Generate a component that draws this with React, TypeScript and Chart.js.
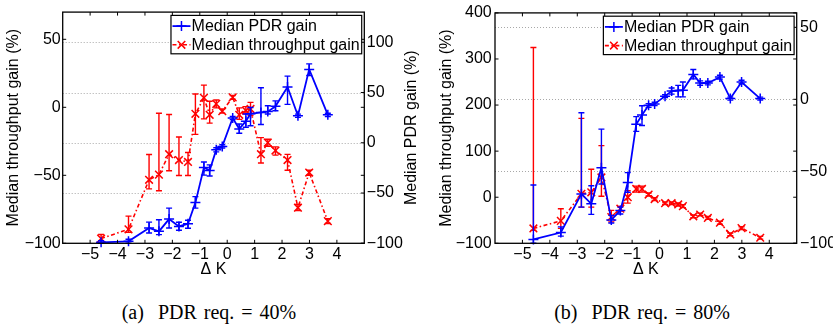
import { useEffect, useRef } from 'react';
import { Chart, registerables } from 'chart.js';

Chart.register(...registerables);

// ---------- data ----------
const deltaK = [-4.6, -3.6, -2.85, -2.49, -2.12, -1.76, -1.43, -1.16, -0.85, -0.64, -0.4, -0.18, 0.2, 0.44, 0.68, 0.85, 1.23, 1.48, 1.76, 2.2, 2.58, 2.99, 3.67];
const xTicks = [-5, -4, -3, -2, -1, 0, 1, 2, 3, 4];
const xRange = [-6, 5];
const legendLabels = ['Median PDR gain', 'Median throughput gain'];

// (a) PDR req. = 40%
const thrA = [-96.5, -89.7, -53.3, -49.5, -34.5, -38.8, -40.2, -4.8, 7, -5.5, 2.5, -2.9, 7.3, -5.5, -2.4, -1.2, -34.5, -26, -31.8, -38.8, -73.8, -48, -83.7];
const thrAHi = [-93.5, -80, -34.7, -4.4, -5.3, -21.8, -33.2, 9.8, 16.3, 4.4, 5.4, -1.3, 8.7, -0.4, 0.5, 3.6, -22.3, -23.5, -29.1, -34.6, -71.5, -46.3, -82];
const thrALo = [-100, -92, -60, -61.4, -46.6, -50.2, -50.2, -19.9, -8.5, -11.6, -0.4, -4.3, 5.9, -8.9, -4.8, -6, -41, -28.6, -35.2, -46.3, -76, -50, -85.4];
const pdrA = [-99, -98, -84.8, -88.1, -75.9, -83.2, -80.5, -59.5, -24.6, -27.5, -6.9, -3.6, 24.6, 13.8, 21.5, 28.8, 30.2, 31, 36.3, 55.5, 26.9, 73, 27.8];
const pdrAHi = [-97.5, -96, -78.9, -76.6, -65, -79, -77, -53.6, -19.1, -22, -5, -2, 26.2, 18.7, 28.6, 35.1, 54.8, 36.8, 41.7, 66.3, 28.5, 78.5, 29.4];
const pdrALo = [-100, -100, -89.7, -91.4, -84.8, -87, -85, -65, -32.2, -33, -9, -5.2, 23, 9.5, 15.4, 17, 18.2, 28.6, 31.9, 38.2, 25.3, 67, 26.2];
const thrTicksA = [-100, -50, 0, 50];
const thrRangeA = [-100, 70];
const pdrTicksA = [-100, -50, 0, 50, 100];
const pdrRangeA = [-100, 130];

// (b) PDR req. = 80%
const thrB = [-67.7, -51.4, 7.3, 10.7, 42.9, -42.9, -24.9, 0, 18, 18, 5.8, -4, -12.9, -12.9, -15.7, -19.3, -41.4, -37.5, -45, -55.3, -80.6, -67, -88];
const thrBHi = [325, -25, 171, 60.8, 112, -28.5, -20, 14.3, 24, 24, 9, -1, -10, -10, -12.5, -16, -38.5, -34.5, -42, -52, -77.5, -64, -85];
const thrBLo = [-72, -67.7, -21.4, -21.4, 2, -53.6, -30, -12.9, 11, 11, 2.5, -7, -15.8, -15.8, -19, -22.5, -44.5, -40.5, -48, -58.5, -83.5, -70, -91];
const pdrB = [-97.3, -92.5, -65.7, -72.6, -47.5, -83.8, -77.2, -57.7, -17.3, -10.9, -4.2, -3.2, 2.2, 5.7, 6.1, 6.3, 17.3, 11.3, 11.3, 15.4, 0.5, 12, 0.5];
const pdrBHi = [-59.5, -88.6, -9.3, -60, -20.7, -80.6, -74.9, -50.9, -12, -4.5, -3, -2, 3.2, 7.8, 9.7, 12, 20.7, 12.8, 12.5, 16.7, 1.5, 13.2, 1.5];
const pdrBLo = [-100, -95, -74.9, -79.9, -58.8, -85.9, -79.7, -64.6, -22.3, -18.2, -5.5, -4.4, 1.2, 3.6, 1.7, 1.7, 14.2, 9.8, 10, 14, -0.6, 10.8, -0.5];
const thrTicksB = [-100, 0, 100, 200, 300, 400];
const thrRangeB = [-100, 400];
const pdrTicksB = [-100, -50, 0, 50];
const pdrRangeB = [-100, 60];

// ---------- styling ----------
const BLUE = '#0000ff';
const RED = '#ff0000';
const FONT = '"Liberation Sans", Arial, Helvetica, sans-serif';
const RED_DASH = [4, 2.5, 1.5, 2.5];

Chart.defaults.font.family = FONT;
Chart.defaults.font.size = 16;
Chart.defaults.color = '#000';

const fmt = (v: number) => (v < 0 ? '\u2212' + Math.abs(v) : String(v));

type PanelCfg = {
  width: number;
  height: number;
  leftW: number;
  rightW: number;
  bottomH: number;
  top: number;
  yPad: number;
  y1Pad: number;
  yTitlePad: number;
  y1Title?: string;
  y1TitleOffset?: number;
  thr: number[]; thrHi: number[]; thrLo: number[];
  pdr: number[]; pdrHi: number[]; pdrLo: number[];
  thrTicks: number[]; thrRange: number[];
  pdrTicks: number[]; pdrRange: number[];
};

function drawMarker(ctx: CanvasRenderingContext2D, kind: string, x: number, y: number, r: number) {
  ctx.beginPath();
  if (kind === 'plus') {
    ctx.moveTo(x - r, y); ctx.lineTo(x + r, y);
    ctx.moveTo(x, y - r); ctx.lineTo(x, y + r);
  } else {
    ctx.moveTo(x - r, y - r); ctx.lineTo(x + r, y + r);
    ctx.moveTo(x - r, y + r); ctx.lineTo(x + r, y - r);
  }
  ctx.stroke();
}

function makeFramePlugin(cfg: PanelCfg) {
  return {
    id: 'frame',
    beforeDatasetsDraw(chart: any) {
      const { ctx, chartArea: ca } = chart;
      const ys = chart.scales.y1;
      ctx.save();
      ctx.strokeStyle = '#a8a8a8';
      ctx.lineWidth = 1;
      ctx.setLineDash([1, 2]);
      cfg.pdrTicks.forEach((v) => {
        if (v <= cfg.pdrRange[0] || v >= cfg.pdrRange[1]) return;
        const y = Math.round(ys.getPixelForValue(v)) + 0.5;
        ctx.beginPath();
        ctx.moveTo(ca.left, y);
        ctx.lineTo(ca.right, y);
        ctx.stroke();
      });
      ctx.restore();
    },
    afterDatasetDraw(chart: any, args: any) {
      const ds = chart.data.datasets[args.index];
      if (!ds.errHi) return;
      const { ctx } = chart;
      const xs = chart.scales.x;
      const ys = chart.scales[ds.yAxisID];
      const cap = 3;
      ctx.save();
      ctx.strokeStyle = ds.borderColor;
      ctx.lineWidth = 1.4;
      ctx.setLineDash([]);
      ds.data.forEach((p: any, i: number) => {
        const x = xs.getPixelForValue(p.x);
        const yh = ys.getPixelForValue(ds.errHi[i]);
        const yl = ys.getPixelForValue(ds.errLo[i]);
        ctx.beginPath();
        ctx.moveTo(x, yh); ctx.lineTo(x, yl);
        ctx.moveTo(x - cap, yh); ctx.lineTo(x + cap, yh);
        ctx.moveTo(x - cap, yl); ctx.lineTo(x + cap, yl);
        ctx.stroke();
      });
      ctx.restore();
    },
    afterDraw(chart: any) {
      const { ctx, chartArea: ca } = chart;
      const xs = chart.scales.x;
      const yl = chart.scales.y;
      const yr = chart.scales.y1;
      const tl = 3.5;
      ctx.save();
      ctx.strokeStyle = '#000';
      ctx.lineWidth = 1;
      ctx.setLineDash([]);
      ctx.beginPath();
      xTicks.forEach((v) => {
        const x = xs.getPixelForValue(v);
        ctx.moveTo(x, ca.bottom); ctx.lineTo(x, ca.bottom - tl);
        ctx.moveTo(x, ca.top); ctx.lineTo(x, ca.top + tl);
      });
      cfg.thrTicks.forEach((v) => {
        const y = yl.getPixelForValue(v);
        ctx.moveTo(ca.left, y); ctx.lineTo(ca.left + tl, y);
        ctx.moveTo(ca.right, y); ctx.lineTo(ca.right - tl, y);
      });
      cfg.pdrTicks.forEach((v) => {
        const y = yr.getPixelForValue(v);
        ctx.moveTo(ca.right, y); ctx.lineTo(ca.right - tl, y);
      });
      ctx.stroke();
      ctx.lineWidth = 1.3;
      ctx.strokeRect(ca.left, ca.top, ca.right - ca.left, ca.bottom - ca.top);

      // legend
      ctx.font = '16px ' + FONT;
      const tw = Math.max(...legendLabels.map((l) => ctx.measureText(l).width));
      const boxW = 20.6 + tw + 2;
      const boxH = 38.4;
      const bx = ca.right - 2.6 - boxW;
      const by = ca.top + 3.3;
      ctx.fillStyle = '#fff';
      ctx.fillRect(bx, by, boxW, boxH);
      ctx.lineWidth = 1.2;
      ctx.strokeStyle = '#000';
      ctx.strokeRect(bx, by, boxW, boxH);
      const rows = [by + 10.7, by + 29.4];
      chart.data.datasets.forEach((ds: any, i: number) => {
        const y = rows[i];
        ctx.strokeStyle = ds.borderColor;
        ctx.lineWidth = ds.borderWidth;
        ctx.setLineDash(ds.borderDash || []);
        ctx.beginPath();
        ctx.moveTo(bx + 1.5, y); ctx.lineTo(bx + 19.5, y);
        ctx.stroke();
        ctx.setLineDash([]);
        ctx.lineWidth = 1.5;
        drawMarker(ctx, ds.marker, bx + 10.5, y, ds.marker === 'plus' ? 5 : 3.8);
        ctx.fillStyle = '#000';
        ctx.textAlign = 'left';
        ctx.textBaseline = 'middle';
        ctx.fillText(ds.label, bx + 20.6, y + 0.5);
      });

      if (cfg.y1Title) {
        ctx.save();
        ctx.translate(ca.right + (cfg.y1TitleOffset || 48), (ca.top + ca.bottom) / 2);
        ctx.rotate(-Math.PI / 2);
        ctx.fillStyle = '#000';
        ctx.textAlign = 'center';
        ctx.textBaseline = 'middle';
        ctx.fillText(cfg.y1Title, 0, 0);
        ctx.restore();
      }
      ctx.restore();
    },
  };
}

function Panel({ cfg, left }: { cfg: PanelCfg; left: number }) {
  const ref = useRef<HTMLCanvasElement | null>(null);
  useEffect(() => {
    if (!ref.current) return;
    const chart = new Chart(ref.current, {
      type: 'line',
      data: {
        datasets: [
          {
            label: legendLabels[0],
            data: deltaK.map((x, i) => ({ x, y: cfg.pdr[i] })),
            yAxisID: 'y1',
            borderColor: BLUE,
            backgroundColor: BLUE,
            borderWidth: 1.8,
            pointStyle: 'cross',
            pointRadius: 5,
            pointBorderWidth: 1.5,
            pointBorderColor: BLUE,
            pointHoverRadius: 5,
            tension: 0,
            clip: false,
            errHi: cfg.pdrHi,
            errLo: cfg.pdrLo,
            marker: 'plus',
          } as any,
          {
            label: legendLabels[1],
            data: deltaK.map((x, i) => ({ x, y: cfg.thr[i] })),
            yAxisID: 'y',
            borderColor: RED,
            backgroundColor: RED,
            borderWidth: 1.6,
            borderDash: RED_DASH,
            pointStyle: 'crossRot',
            pointRadius: 5.4,
            pointBorderWidth: 1.5,
            pointBorderColor: RED,
            pointHoverRadius: 5.4,
            tension: 0,
            clip: false,
            errHi: cfg.thrHi,
            errLo: cfg.thrLo,
            marker: 'x',
          } as any,
        ],
      },
      options: {
        responsive: false,
        animation: false,
        devicePixelRatio: 1,
        events: [],
        layout: { padding: { top: cfg.top, left: 0, right: 0, bottom: 0 } },
        plugins: { legend: { display: false }, tooltip: { enabled: false } },
        scales: {
          x: {
            type: 'linear',
            position: 'bottom',
            min: xRange[0],
            max: xRange[1],
            grid: { display: false, drawTicks: false },
            border: { display: false },
            ticks: { padding: 2, autoSkip: false, maxRotation: 0, color: '#000', callback: (v: any) => fmt(Number(v)) },
            afterBuildTicks: (s: any) => { s.ticks = xTicks.map((value) => ({ value })); },
            afterFit: (s: any) => { s.height = cfg.bottomH; },
            title: { display: true, text: '\u0394 K', color: '#000', padding: { top: 0, bottom: 10.4 } },
          },
          y: {
            type: 'linear',
            position: 'left',
            min: cfg.thrRange[0],
            max: cfg.thrRange[1],
            grid: { display: false, drawTicks: false },
            border: { display: false },
            ticks: { padding: cfg.yPad, autoSkip: false, color: '#000', callback: (v: any) => fmt(Number(v)) },
            afterBuildTicks: (s: any) => { s.ticks = cfg.thrTicks.map((value) => ({ value })); },
            afterFit: (s: any) => { s.width = cfg.leftW; },
            title: { display: true, text: 'Median throughput gain (%)', color: '#000', padding: { top: cfg.yTitlePad, bottom: 0 } },
          },
          y1: {
            type: 'linear',
            position: 'right',
            min: cfg.pdrRange[0],
            max: cfg.pdrRange[1],
            grid: { display: false, drawTicks: false },
            border: { display: false },
            ticks: { padding: cfg.y1Pad, autoSkip: false, color: '#000', callback: (v: any) => fmt(Number(v)) },
            afterBuildTicks: (s: any) => { s.ticks = cfg.pdrTicks.map((value) => ({ value })); },
            afterFit: (s: any) => { s.width = cfg.rightW; },
          },
        },
      } as any,
      plugins: [makeFramePlugin(cfg) as any],
    });
    return () => chart.destroy();
  }, [cfg]);
  return (
    <canvas
      ref={ref}
      width={cfg.width}
      height={cfg.height}
      style={{ position: 'absolute', left, top: 0, width: cfg.width, height: cfg.height, display: 'block' }}
    />
  );
}

const cfgA: PanelCfg = {
  width: 428, height: 290, leftW: 62.7, rightW: 63.7, bottomH: 46.7, top: 10,
  yPad: 2, y1Pad: 2.5, yTitlePad: 4.4, y1Title: 'Median PDR gain (%)', y1TitleOffset: 47.7,
  thr: thrA, thrHi: thrAHi, thrLo: thrALo, pdr: pdrA, pdrHi: pdrAHi, pdrLo: pdrALo,
  thrTicks: thrTicksA, thrRange: thrRangeA, pdrTicks: pdrTicksA, pdrRange: pdrRangeA,
};

const cfgB: PanelCfg = {
  width: 405, height: 290, leftW: 67, rightW: 36.3, bottomH: 46.7, top: 10,
  yPad: 3.3, y1Pad: 3.3, yTitlePad: 9.1,
  thr: thrB, thrHi: thrBHi, thrLo: thrBLo, pdr: pdrB, pdrHi: pdrBHi, pdrLo: pdrBLo,
  thrTicks: thrTicksB, thrRange: thrRangeB, pdrTicks: pdrTicksB, pdrRange: pdrRangeB,
};

const captionStyle = (cx: number): any => ({
  position: 'absolute',
  left: cx - 150,
  top: 300,
  width: 300,
  textAlign: 'center',
  fontFamily: '"Liberation Serif", "Times New Roman", serif',
  fontSize: 20,
  lineHeight: '24px',
  wordSpacing: 2,
  whiteSpace: 'pre',
  color: '#000',
});

export default function App() {
  return (
    <div style={{ position: 'fixed', left: 0, top: 0, width: 833, height: 326, background: '#fff', overflow: 'hidden' }}>
      <Panel cfg={cfgA} left={0} />
      <Panel cfg={cfgB} left={428} />
      <div style={captionStyle(209)}>{'(a)  PDR req. = 40%'}</div>
      <div style={captionStyle(642)}>{'(b)  PDR req. = 80%'}</div>
    </div>
  );
}
